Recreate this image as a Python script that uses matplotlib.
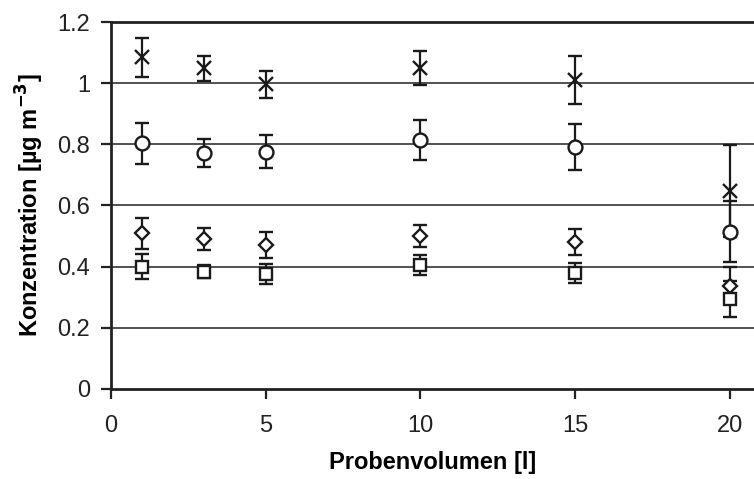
import matplotlib
matplotlib.use("Agg")
import matplotlib.pyplot as plt

plt.rcParams["font.family"] = ["Liberation Sans", "DejaVu Sans"]

volumen = [1, 3, 5, 10, 15, 20]

kreuz = [1.085, 1.049, 0.996, 1.049, 1.010, 0.647]
kreuz_err = [0.064, 0.041, 0.045, 0.056, 0.079, 0.150]

kreis = [0.803, 0.771, 0.776, 0.814, 0.792, 0.514]
kreis_err = [0.068, 0.045, 0.055, 0.066, 0.075, 0.100]

raute = [0.509, 0.490, 0.471, 0.500, 0.480, 0.338]
raute_err = [0.050, 0.035, 0.042, 0.037, 0.043, 0.060]

quadrat = [0.400, 0.384, 0.376, 0.405, 0.378, 0.294]
quadrat_err = [0.040, 0.020, 0.034, 0.032, 0.033, 0.060]

fig = plt.figure(figsize=(7.54, 4.79), dpi=100)
ax = fig.add_axes([0.147, 0.188, 0.853, 0.766])

# horizontal grid lines
for yv in [0.2, 0.4, 0.6, 0.8, 1.0]:
    ax.axhline(yv, color="#222222", lw=1.1, zorder=1)

series = [
    (kreuz, kreuz_err, "x", 10),
    (kreis, kreis_err, "o", 10),
    (raute, raute_err, "D", 7),
    (quadrat, quadrat_err, "s", 9),
]
for vals, errs, marker, ms in series:
    ax.errorbar(volumen, vals, yerr=errs, fmt=marker, ms=ms, mfc="white",
                mec="#1a1a1a", mew=1.7, ecolor="#1a1a1a", elinewidth=1.6,
                capsize=5, capthick=1.8, zorder=3)

ax.set_xlim(0, 20.78)
ax.set_ylim(0, 1.2)
ax.set_xticks([0, 5, 10, 15, 20])
ax.set_yticks([0, 0.2, 0.4, 0.6, 0.8, 1.0, 1.2])
ax.set_yticklabels(["0", "0.2", "0.4", "0.6", "0.8", "1", "1.2"])

for side in ["left", "bottom", "top"]:
    ax.spines[side].set_linewidth(2)
    ax.spines[side].set_color("#222222")
ax.spines["right"].set_visible(False)

ax.tick_params(axis="both", direction="out", length=7, width=1.6,
               labelsize=17, colors="#222222", pad=8)
ax.tick_params(axis="x", pad=12)

ax.set_xlabel("Probenvolumen [l]", fontsize=17, fontweight="bold", labelpad=10)
ax.set_ylabel("Konzentration [µg m$^{\\mathbf{-3}}$]", fontsize=17,
              fontweight="bold", labelpad=8)

fig.savefig("out.png", dpi=100)
